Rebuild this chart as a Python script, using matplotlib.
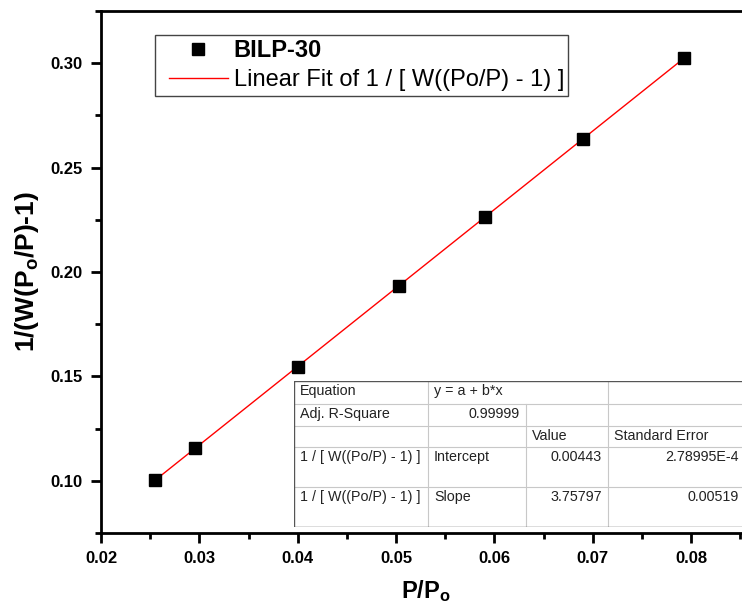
import matplotlib
matplotlib.use("Agg")
import matplotlib.pyplot as plt
from matplotlib.ticker import MultipleLocator, FormatStrFormatter
from matplotlib.lines import Line2D
from matplotlib.legend_handler import HandlerLine2D

plt.rcParams['font.family'] = ['Liberation Sans', 'DejaVu Sans']
plt.rcParams['mathtext.fontset'] = 'custom'
plt.rcParams['mathtext.rm'] = 'Liberation Sans'
plt.rcParams['mathtext.bf'] = 'Liberation Sans:bold'
plt.rcParams['mathtext.it'] = 'Liberation Sans:italic'

# BET points for BILP-30
p_rel = [0.0255, 0.0296, 0.0400, 0.0503, 0.0591, 0.0690, 0.0793]
bet_y = [0.1004, 0.1155, 0.1546, 0.1932, 0.2265, 0.2637, 0.3024]

# linear fit results
intercept = 0.00443
slope = 3.75797
adj_r2 = "0.99999"

series_name = "BILP-30"
fit_name = "Linear Fit of 1 / [ W((Po/P) - 1) ]"

table_rows = [
    ["Equation", "y = a + b*x", "", ""],
    ["Adj. R-Square", adj_r2, "", ""],
    ["", "", "Value", "Standard Error"],
    ["1 / [ W((Po/P) - 1) ]", "Intercept", "0.00443", "2.78995E-4"],
    ["1 / [ W((Po/P) - 1) ]", "Slope", "3.75797", "0.00519"],
]

W, H = 742, 609
fig = plt.figure(figsize=(W / 100, H / 100), dpi=100)
ax = fig.add_axes([101 / W, (H - 533) / H, 649 / W, 522 / H])

x_fit = [p_rel[0], p_rel[-1]]
y_fit = [intercept + slope * v for v in x_fit]
ax.plot(x_fit, y_fit, color='#ff0000', lw=1.0, label=fit_name, zorder=2)
ax.plot(p_rel, bet_y, ls='none', marker='s', ms=8, color='black',
        label=series_name, zorder=3)

ax.set_xlim(0.02, 0.086)
ax.set_ylim(0.075, 0.325)
ax.xaxis.set_major_locator(MultipleLocator(0.01))
ax.xaxis.set_minor_locator(MultipleLocator(0.005))
ax.yaxis.set_major_locator(MultipleLocator(0.05))
ax.yaxis.set_minor_locator(MultipleLocator(0.025))
ax.xaxis.set_major_formatter(FormatStrFormatter('%.2f'))
ax.yaxis.set_major_formatter(FormatStrFormatter('%.2f'))

for s in ['left', 'bottom', 'top']:
    ax.spines[s].set_linewidth(2.0)
ax.spines['right'].set_visible(False)
ax.tick_params(which='both', direction='out', width=2.0, top=False, right=False)
ax.tick_params(which='major', length=7, labelsize=12, pad=6)
ax.tick_params(which='minor', length=4)
for lab in ax.get_xticklabels() + ax.get_yticklabels():
    lab.set_fontweight('bold')

ax.set_xlabel(r'$\mathbf{P/P_o}$', fontsize=17, labelpad=9)
ax.set_ylabel('$\\mathbf{1/(W(P_o/P)\u20101)}$', fontsize=19, labelpad=7)

handles, labels = ax.get_legend_handles_labels()
leg = fig.legend(handles[::-1], labels[::-1], loc='upper left',
                 bbox_to_anchor=(155 / W, 1 - 35 / H), fontsize=17,
                 frameon=True, fancybox=False, framealpha=1,
                 edgecolor='#444444', handlelength=2.9, handletextpad=0.25,
                 borderpad=0.18, labelspacing=0.3, borderaxespad=0,
                 handler_map={Line2D: HandlerLine2D(xpad=0.42)})
leg.get_frame().set_linewidth(1.0)
leg.get_texts()[0].set_fontweight('bold')

# fit report table
tx0, ty0, tx1, ty1 = 294, 381, 745, 527
tab = fig.add_axes([tx0 / W, (H - ty1) / H, (tx1 - tx0) / W, (ty1 - ty0) / H])
tw, th = tx1 - tx0, ty1 - ty0
tab.set_xlim(0, tw)
tab.set_ylim(th, 0)
tab.axis('off')
tab.add_patch(plt.Rectangle((0, 0), tw, th, facecolor='white',
                            edgecolor='none', zorder=0))

cols = [0, 134, 232, 314, tw]
rows = [0, 23, 45, 66, 106, th]
grid = '#c8c8c8'
for r in rows[1:-1]:
    tab.plot([0, tw], [r, r], color=grid, lw=0.8)
tab.plot([cols[1], cols[1]], [0, th], color=grid, lw=0.8)
tab.plot([cols[2], cols[2]], [rows[1], th], color=grid, lw=0.8)
tab.plot([cols[3], cols[3]], [0, th], color=grid, lw=0.8)
tab.plot([0, tw, tw, 0, 0], [0, 0, th, th, 0], color='#555555', lw=1.0)

right_cells = {(1, 1), (3, 2), (3, 3), (4, 2), (4, 3)}
for i, row in enumerate(table_rows):
    y = rows[i] + 10
    for j, txt in enumerate(row):
        if not txt:
            continue
        if (i, j) in right_cells:
            tab.text(cols[j + 1] - 6, y, txt, ha='right', va='center',
                     fontsize=10.3, color='#222222')
        else:
            tab.text(cols[j] + 6, y, txt, ha='left', va='center',
                     fontsize=10.3, color='#222222')

fig.savefig('out.png', dpi=100)
